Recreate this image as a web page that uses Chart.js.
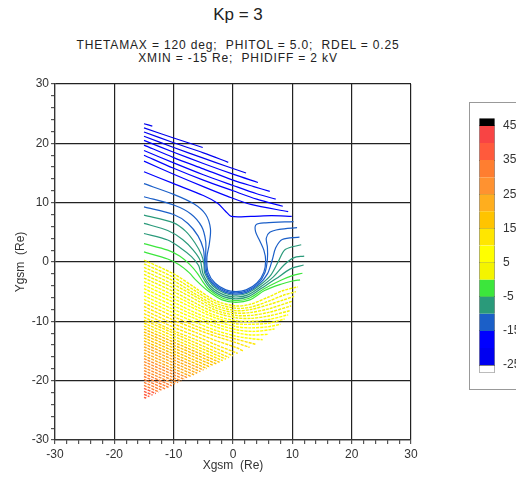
<!DOCTYPE html>
<html>
<head>
<meta charset="utf-8">
<script src="https://cdn.jsdelivr.net/npm/chart.js@4.4.1/dist/chart.umd.min.js"></script>
<style>
  html, body { margin: 0; padding: 0; background: #fff; overflow: hidden; }
  body { width: 516px; height: 477px; position: relative; font-family: "Liberation Sans", Arial, sans-serif; color: #222; }
  #main { position: absolute; left: 0; top: 0; }
  .title { position: absolute; left: 0; width: 476px; text-align: center; white-space: pre; }
  #t1 { top: 5px; font-size: 17px; line-height: 20px; }
  #t2 { top: 39px; font-size: 12px; line-height: 12.7px; letter-spacing: 0.85px; }
  #legendBox { position: absolute; left: 469px; top: 102px; width: 80px; height: 286px; border: 1px solid #999; }
  #bar { position: absolute; left: 470px; top: 103px; }
</style>
</head>
<body>
<div class="title" id="t1">Kp = 3</div>
<div class="title" id="t2">THETAMAX = 120 deg;  PHITOL = 5.0;  RDEL = 0.25
XMIN = -15 Re;  PHIDIFF = 2 kV</div>
<canvas id="main" width="516" height="477"></canvas>
<div id="legendBox"></div>
<canvas id="bar" width="80" height="285"></canvas>
<script>
// contour lines, [x, y] in Re
const upperLines = [
    [[-15,23.3],[-13.6,22.9]],
    [[-15,22.6],[-10,20.9],[-5.1,19.3]],
    [[-15,21.9],[-10,20.1],[-5,18.4],[-0.8,16.8]],
    [[-15,21.2],[-10,19.3],[-5,17.5],[-1,16.1],[2.2,15.0]],
    [[-15,20.5],[-10,18.5],[-5,16.6],[0,14.8],[4.2,13.4]],
    [[-15,19.7],[-10,17.6],[-5,15.7],[0,13.8],[3.5,12.7],[6.2,11.9]],
    [[-15,18.8],[-10,16.7],[-5,14.7],[0,12.9],[4,11.5],[7.2,10.6]],
    [[-15,18.0],[-10,15.8],[-5,13.8],[0,12.0],[4,10.6],[8.4,9.4]],
    [[-15,17.0],[-10,14.8],[-5,12.7],[-1,11.1],[3,9.7],[9.3,8.5]],
    [[-15,15.2],[-10,13.2],[-5,11.2],[-2.6,9.9],[-1.3,8.6],[-0.3,7.7],[3,7.7],[6.5,7.8],[9.9,7.7]]
]
const upperLevels = [-24, -23, -22, -21, -20, -19.5, -19, -18.5, -18, -17]

// lines that bend round the inner boundary
const wrapLines = [
    [[-15,13.2],[-10,11.4],[-6.6,9.8],[-4.6,8.0],[-3.8,5.6],[-4.0,3.0],[-4.4,0.8],[-4.2,-1.7],[-3.04,-3.54],[-1.21,-4.7],[0.5,-5.0],[2.21,-4.7],[4.04,-3.54],[5.2,-1.71],[5.5,0.3],[5.2,2.0],[4.5,3.6],[3.8,5.1],[3.9,6.3],[5.5,6.6],[10.2,6.8]],
    [[-15,11.0],[-10,9.6],[-7.1,8.1],[-5.3,6.0],[-4.6,3.5],[-4.6,1.0],[-4.39,-1.78],[-3.18,-3.68],[-1.28,-4.89],[0.5,-5.2],[2.28,-4.89],[4.18,-3.68],[5.39,-1.78],[5.8,0.5],[5.8,2.5],[5.6,4.0],[6.2,5.0],[7.8,5.5],[10.8,5.8]],
    [[-15,9.3],[-10,8.0],[-7.6,6.5],[-5.9,4.4],[-5.0,2.2],[-4.8,0.3],[-4.58,-1.85],[-3.32,-3.82],[-1.35,-5.07],[0.5,-5.4],[2.35,-5.07],[4.32,-3.82],[5.8,-2.0],[6.6,0.3],[7.2,2.4],[8.3,3.8],[11.2,4.2]],
    [[-15,7.9],[-10,6.6],[-8,5.2],[-6.4,3.2],[-5.3,1.2],[-4.9,-0.3],[-4.76,-1.92],[-3.46,-3.96],[-1.42,-5.26],[0.5,-5.6],[2.42,-5.26],[4.46,-3.96],[6.3,-2.3],[7.6,0],[8.8,2.1],[11.5,2.9]],
    [[-15,6.5],[-11,5.3],[-8.5,3.8],[-6.7,2.0],[-5.5,0.2],[-5.04,-2.02],[-3.67,-4.17],[-1.52,-5.54],[0.5,-5.9],[2.52,-5.54],[4.67,-4.17],[6.8,-2.5],[8.6,-0.5],[10.2,0.7],[12.0,1.0]],
    [[-15,4.8],[-11,3.7],[-9,2.5],[-7,0.9],[-5.8,-0.6],[-5.33,-2.12],[-3.88,-4.38],[-1.62,-5.83],[0.5,-6.2],[2.62,-5.83],[4.88,-4.38],[7.3,-2.8],[9.6,-1.2],[11.9,-0.5]],
    [[-15,3.1],[-11,2.0],[-9,1.0],[-7.3,-0.4],[-6.0,-1.9],[-5.13,-3.25],[-4.1,-4.6],[-1.72,-6.11],[0.5,-6.5],[2.72,-6.11],[5.1,-4.6],[7.8,-3.2],[10.0,-2.3],[11.7,-1.9]],
    [[-15,1.7],[-11,0.5],[-9,-0.5],[-7.4,-1.8],[-6.2,-3.1],[-4.31,-4.81],[-1.83,-6.39],[0.5,-6.8],[2.83,-6.39],[5.31,-4.81],[8.2,-3.7],[10.0,-3.2],[11.3,-3.0]]
]
const wrapLevels = [-14, -12.5, -11, -9.5, -8, -6, -4, -2]

// dotted lines on the positive side
const lowerLines = [
    [[-15,0.3],[-10,-2.0],[-6,-4.6],[-3,-6.5],[0.5,-7.4],[3,-7.1],[6,-5.9],[8.5,-4.8],[10.9,-4.2]],
    [[-15,-0.3],[-10,-2.6],[-6,-5.1],[-3,-6.9],[0.5,-7.8],[3,-7.6],[6,-6.6],[8.5,-5.6],[10.6,-5.0]],
    [[-15,-0.9],[-10,-3.2],[-6,-5.6],[-3,-7.3],[0.5,-8.2],[3,-8.0],[6,-7.2],[8.5,-6.4],[10.3,-5.8]],
    [[-15,-1.5],[-10,-3.8],[-6,-6.0],[-3,-7.7],[0.5,-8.6],[3,-8.5],[6,-7.9],[10.0,-6.6]],
    [[-15,-2.1],[-10,-4.4],[-6,-6.5],[-3,-8.1],[0.5,-9.0],[3,-9.0],[6,-8.5],[9.8,-7.4]],
    [[-15,-2.7],[-10,-5.0],[-6,-7.1],[-3,-8.5],[0.5,-9.4],[3,-9.5],[6,-9.1],[9.6,-8.2]],
    [[-15,-3.3],[-10,-5.6],[-6,-7.6],[-3,-9.0],[0.5,-9.9],[3,-10.0],[6,-9.7],[9.3,-8.9]],
    [[-15,-3.9],[-10,-6.2],[-6,-8.1],[-3,-9.4],[0.5,-10.4],[3,-10.5],[6,-10.3],[8.7,-9.6]],
    [[-15,-4.5],[-10,-6.8],[-6,-8.7],[-3,-9.9],[0.5,-10.9],[3,-11.1],[6,-10.9],[8.0,-10.5]],
    [[-15,-5.1],[-10,-7.4],[-6,-9.2],[-3,-10.4],[0.5,-11.4],[3.5,-11.7],[7.0,-11.3]],
    [[-15,-5.7],[-10,-8.0],[-6,-9.7],[-3,-10.9],[0.5,-11.9],[3,-12.3],[6.0,-12.2]],
    [[-15,-6.3],[-10,-8.6],[-6,-10.3],[-3,-11.5],[0.5,-12.5],[3,-12.9],[5.0,-13.1]],
    [[-15,-6.9],[-10,-9.2],[-6,-10.9],[-3,-12.0],[0.5,-13.0],[3.9,-13.9]],
    [[-15,-7.5],[-10,-9.8],[-6,-11.4],[-3,-12.5],[0.5,-13.6],[2.8,-14.4]],
    [[-15,-8.1],[-10,-10.4],[-6,-12.0],[-3,-13.2],[0.5,-14.4],[1.7,-15.0]],
    [[-15,-8.7],[-10,-11.0],[-6,-12.6],[-3,-13.9],[0.8,-15.4]],
    [[-15,-9.3],[-10,-11.6],[-6,-13.2],[-3,-14.5],[0.0,-15.8]],
    [[-15,-9.8],[-0.65,-16.12]],
    [[-15,-10.3],[-1.18,-16.38]],
    [[-15,-10.8],[-1.72,-16.64]],
    [[-15,-11.3],[-2.26,-16.91]],
    [[-15,-11.8],[-2.8,-17.17]],
    [[-15,-12.3],[-3.33,-17.43]],
    [[-15,-12.8],[-3.87,-17.7]],
    [[-15,-13.3],[-4.41,-17.96]],
    [[-15,-13.8],[-4.95,-18.22]],
    [[-15,-14.3],[-5.48,-18.49]],
    [[-15,-14.8],[-6.02,-18.75]],
    [[-15,-15.3],[-6.56,-19.01]],
    [[-15,-15.8],[-7.1,-19.28]],
    [[-15,-16.3],[-7.63,-19.54]],
    [[-15,-16.8],[-8.17,-19.8]],
    [[-15,-17.3],[-8.71,-20.07]],
    [[-15,-17.8],[-9.25,-20.33]],
    [[-15,-18.3],[-9.78,-20.59]],
    [[-15,-18.8],[-10.32,-20.86]],
    [[-15,-19.3],[-10.86,-21.12]],
    [[-15,-19.8],[-11.4,-21.39]],
    [[-15,-20.3],[-11.94,-21.65]],
    [[-15,-20.8],[-12.47,-21.91]],
    [[-15,-21.3],[-13.01,-22.17]],
    [[-15,-21.8],[-13.55,-22.44]],
    [[-15,-22.3],[-14.09,-22.7]],
    [[-15,-22.8],[-14.62,-22.96]]
]
const lowerLevels = [0.5, 1.3, 2.1, 2.9, 3.7, 4.5, 5.3, 6.1, 6.9, 7.7, 8.5, 9.3, 10.1, 10.9, 11.7, 12.5, 13,
    13.5, 14, 14.5, 15.5, 16.5, 17.5, 18.5, 19.5, 20.5, 21.5, 22.5, 23.5, 24.5, 25.5, 26.5, 27.5,
    28.5, 29.5, 30.5, 31.5, 32.5, 33.5, 34.5, 35.5, 36.5, 37.5, 38.5]

// colour scale (kV)
const bandEdges = [-27.25, -25, -20, -15, -10, -5, 0, 5, 10, 15, 20, 25, 30, 35, 40, 45, 47.25]
const bandColors = ['#ffffff', '#0000f0', '#0000ff', '#1b5fc8', '#2a9a7a', '#3ce63c', '#f4f400', '#ffff00',
    '#ffe600', '#ffc400', '#ffae1e', '#ff9230', '#ff7e30', '#ff5a3c', '#f84444', '#000000']
const barTicks = [45, 35, 25, 15, 5, -5, -15, -25]
const axisLabels = [-30, -20, -10, 0, 10, 20, 30]

const fontFamily = "'Liberation Sans', Arial, sans-serif"

function levelColor(v) {
    for (let i = 0; i < bandColors.length; i++) {
        if (v >= bandEdges[i] && v < bandEdges[i + 1]) return bandColors[i]
    }
    return '#000'
}

const allLines = [...upperLines, ...wrapLines, ...lowerLines]
const allLevels = [...upperLevels, ...wrapLevels, ...lowerLevels]

const datasets = allLines.map((pts, i) => ({
    data: pts.map(p => ({ x: p[0], y: p[1] })),
    showLine: true,
    borderColor: levelColor(allLevels[i]),
    borderWidth: allLevels[i] > 0 ? 1.4 : 1.2,
    borderDash: allLevels[i] > 0 ? [3, 1] : [],
    pointRadius: 0,
    tension: 0.3,
    fill: false
}))

function axisOptions(title, isX) {
    return {
        type: 'linear',
        min: -30,
        max: 30,
        afterFit: scale => {
            if (isX) scale.height = 37
            else scale.width = 45
        },
        ticks: {
            stepSize: 2,
            autoSkip: false,
            maxRotation: 0,
            padding: isX ? 3 : 2,
            color: '#333',
            font: { size: 12, family: fontFamily },
            callback: v => axisLabels.includes(v) ? v : ''
        },
        grid: {
            color: ctx => (ctx.tick && axisLabels.includes(ctx.tick.value)) ? '#222' : 'rgba(0,0,0,0)',
            lineWidth: 1.2,
            tickColor: '#555',
            tickLength: 4
        },
        border: { color: '#333', width: 1.2 },
        title: {
            display: true,
            text: title,
            color: '#333',
            font: { size: 12, family: fontFamily },
            padding: isX ? { top: 0, bottom: 4 } : { top: 3, bottom: 0 }
        }
    }
}

new Chart(document.getElementById('main'), {
    type: 'scatter',
    data: { datasets: datasets },
    options: {
        responsive: false,
        animation: false,
        layout: { padding: { left: 10, right: 105, top: 84, bottom: 0 } },
        plugins: { legend: { display: false }, tooltip: { enabled: false } },
        scales: {
            x: axisOptions('Xgsm  (Re)', true),
            y: axisOptions('Ygsm  (Re)', false)
        }
    }
})

new Chart(document.getElementById('bar'), {
    type: 'bar',
    data: {
        labels: [''],
        datasets: bandColors.map((c, i) => ({
            data: [[bandEdges[i], bandEdges[i + 1]]],
            backgroundColor: c,
            borderColor: 'rgba(70,70,70,0.6)',
            borderWidth: { left: 1, right: 1, top: i === 0 ? 1 : 0, bottom: i === 0 ? 1 : 0 },
            borderSkipped: false,
            barPercentage: 1,
            categoryPercentage: 1,
            grouped: false
        }))
    },
    options: {
        responsive: false,
        animation: false,
        layout: { padding: { left: 9, top: 8, right: 0, bottom: 11 } },
        plugins: { legend: { display: false }, tooltip: { enabled: false } },
        scales: {
            x: { display: false },
            y: {
                position: 'right',
                min: -27.25,
                max: 47.25,
                afterFit: scale => { scale.width = 55 },
                afterBuildTicks: scale => { scale.ticks = barTicks.map(v => ({ value: v })) },
                ticks: { padding: 8, color: '#333', font: { size: 12, family: fontFamily } },
                grid: { drawTicks: false, color: 'rgba(0,0,0,0.5)', lineWidth: 1 },
                border: { display: false }
            }
        }
    }
})
</script>
</body>
</html>
